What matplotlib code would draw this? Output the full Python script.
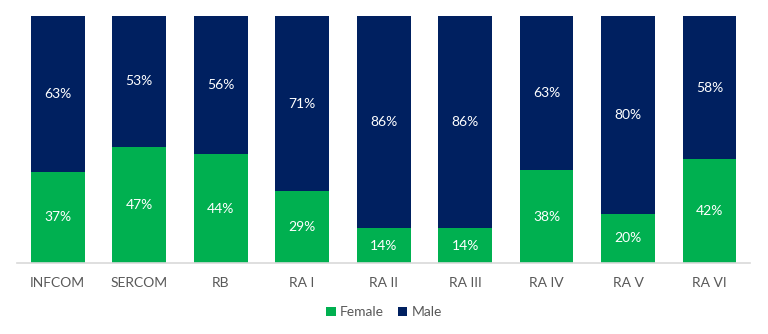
import matplotlib
matplotlib.use("Agg")
import matplotlib.pyplot as plt
import numpy as np

categories = ["INFCOM", "SERCOM", "RB", "RA I", "RA II", "RA III", "RA IV", "RA V", "RA VI"]
female = [37, 47, 44, 29, 14, 14, 38, 20, 42]
male = [63, 53, 56, 71, 86, 86, 63, 80, 58]

plt.rcParams["font.family"] = ["Lato", "DejaVu Sans"]

green = "#00B050"
navy = "#002060"

fig = plt.figure(figsize=(7.68, 3.34), dpi=100)
ax = fig.add_axes([0.022, 0.2126, 0.955, 0.7395])

x = np.arange(len(categories))
f = np.array(female, dtype=float)
m = np.array(male, dtype=float)
tot = f + m
fs = f / tot
ms = m / tot

w = 0.66
ax.bar(x, fs, w, color=green, label="Female")
ax.bar(x, ms, w, bottom=fs, color=navy, label="Male")

for xi, a, b, fv, mv in zip(x, fs, ms, female, male):
    ax.text(xi, a / 2, f"{fv}%", ha="center", va="center", color="white", fontsize=10)
    ax.text(xi, a + b / 2, f"{mv}%", ha="center", va="center", color="white", fontsize=10)

ax.set_xlim(-0.5, len(categories) - 0.5)
ax.set_ylim(0, 1)
ax.set_xticks(x)
ax.set_xticklabels(categories, fontsize=10, color="#595959")
ax.tick_params(axis="x", length=0, pad=10)
ax.set_yticks([])
for s in ["top", "right", "left"]:
    ax.spines[s].set_visible(False)
ax.spines["bottom"].set_color("#D9D9D9")
ax.spines["bottom"].set_linewidth(1.2)

leg = fig.legend(loc="center", bbox_to_anchor=(0.5, 0.065), ncol=2, frameon=False,
                 fontsize=10, handlelength=0.7, handleheight=0.7, handletextpad=0.3,
                 columnspacing=1.0, labelcolor="#595959")

fig.savefig("out.png", dpi=100)
